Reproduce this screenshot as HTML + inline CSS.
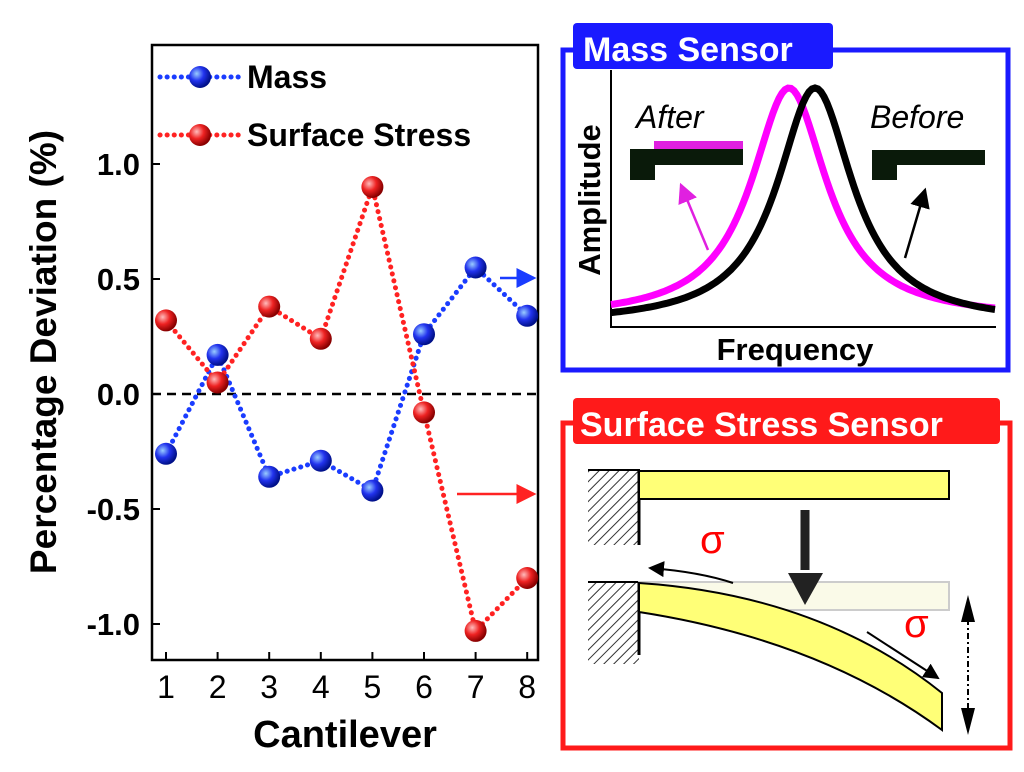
<!DOCTYPE html>
<html><head><meta charset="utf-8"><style>
body{margin:0;background:#fff;width:1024px;height:767px;overflow:hidden;font-family:"Liberation Sans",sans-serif}
svg text{font-family:"Liberation Sans",sans-serif;font-weight:bold}
</style></head><body>
<svg width="1024" height="767" viewBox="0 0 1024 767">
<defs>
<radialGradient id="gb" cx="35%" cy="35%" r="65%"><stop offset="0" stop-color="#9cf"/><stop offset="0.5" stop-color="#2233ee"/><stop offset="1" stop-color="#001088"/></radialGradient>
<radialGradient id="gr" cx="35%" cy="35%" r="65%"><stop offset="0" stop-color="#fbb"/><stop offset="0.5" stop-color="#ee2222"/><stop offset="1" stop-color="#880000"/></radialGradient>
<marker id="ab" markerWidth="8" markerHeight="8" refX="7" refY="4" orient="auto"><path d="M0,0L8,4L0,8z" fill="#1a3cff"/></marker>
<marker id="ar" markerWidth="8" markerHeight="8" refX="7" refY="4" orient="auto"><path d="M0,0L8,4L0,8z" fill="#f22"/></marker>
<marker id="ak" markerWidth="8" markerHeight="8" refX="7" refY="4" orient="auto"><path d="M0,0L8,4L0,8z" fill="#000"/></marker>
<marker id="am" markerWidth="8" markerHeight="8" refX="7" refY="4" orient="auto"><path d="M0,0L8,4L0,8z" fill="#e020e0"/></marker>
<pattern id="hatch" width="7" height="7" patternUnits="userSpaceOnUse" patternTransform="rotate(45)"><rect width="7" height="7" fill="#fff"/><line x1="0" y1="0" x2="0" y2="7" stroke="#333" stroke-width="2"/></pattern>
</defs>
<g id="chart"></g>

<!-- Mass sensor inset -->
<g>
<rect x="563" y="50" width="445" height="320" fill="none" stroke="#1a1aff" stroke-width="5"/>
<rect x="573" y="23" width="260" height="46" rx="4" fill="#1a1aff"/>
<text x="583" y="61" font-size="34" fill="#fff">Mass Sensor</text>
<polyline points="611,70 611,327 996,327" fill="none" stroke="#000" stroke-width="2"/>
<path id="magcurve" fill="none" stroke="#ff00ff" stroke-width="7"/>
<path id="blkcurve" fill="none" stroke="#000" stroke-width="7"/>
<text x="600" y="200" font-size="31" transform="rotate(-90 600 200)" text-anchor="middle">Amplitude</text>
<text x="795" y="360" font-size="31" text-anchor="middle">Frequency</text>
<text x="636" y="128" font-size="32" font-style="italic" style="font-weight:normal">After</text>
<text x="870" y="128" font-size="32" font-style="italic" style="font-weight:normal">Before</text>
<rect x="654" y="141" width="89" height="8" fill="#e020e0"/>
<path d="M630,149H743V165H655V180H630Z" fill="#0a1a0a"/>
<path d="M872,150H985V165H897V180H872Z" fill="#0a1a0a"/>
<line x1="708" y1="250" x2="681" y2="185" stroke="#e020e0" stroke-width="2.5" marker-end="url(#am)"/>
<line x1="905" y1="258" x2="925" y2="190" stroke="#000" stroke-width="2.5" marker-end="url(#ak)"/>
</g>

<!-- Surface stress inset -->
<g>
<rect x="563" y="423" width="447" height="325" fill="none" stroke="#ff1a1a" stroke-width="5"/>
<rect x="573" y="398" width="427" height="46" rx="4" fill="#ff1a1a"/>
<text x="580" y="436" font-size="34" fill="#fff">Surface Stress Sensor</text>
<rect x="588" y="470" width="51" height="75" fill="url(#hatch)"/>
<line x1="588" y1="470" x2="640" y2="470" stroke="#000" stroke-width="2"/>
<line x1="639" y1="470" x2="639" y2="545" stroke="#000" stroke-width="3"/>
<rect x="639" y="471" width="310" height="28" fill="#ffff77" stroke="#000" stroke-width="2"/>
<rect x="588" y="582" width="51" height="82" fill="url(#hatch)"/>
<line x1="588" y1="582" x2="640" y2="582" stroke="#000" stroke-width="2"/>
<line x1="639" y1="582" x2="639" y2="655" stroke="#000" stroke-width="3"/>
<rect x="639" y="582" width="310" height="28" fill="#fafae8" stroke="#ccc" stroke-width="2"/>
<path d="M639,583 Q820,595 942,693 L942,730 Q820,640 639,612Z" fill="#ffff77" stroke="#000" stroke-width="2"/>
<path d="M805,510V570" stroke="#222" stroke-width="9"/>
<path d="M788,573H823L805,605Z" fill="#222"/>
<path d="M733,583 Q700,572 650,568" fill="none" stroke="#000" stroke-width="2" marker-end="url(#ak)"/>
<line x1="867" y1="632" x2="938" y2="678" stroke="#000" stroke-width="2" marker-end="url(#ak)"/>
<text x="700" y="553" font-size="40" fill="#f00" style="font-weight:normal">σ</text>
<text x="904" y="637" font-size="40" fill="#f00" style="font-weight:normal">σ</text>
<line x1="968" y1="605" x2="968" y2="725" stroke="#000" stroke-width="2" stroke-dasharray="6,3,2,3"/>
<path d="M968,595L961,622H975Z M968,735L961,708H975Z" fill="#000"/>
</g>
</svg>
<script>
const categories=[1,2,3,4,5,6,7,8];
const massValues=[-0.26,0.17,-0.36,-0.29,-0.42,0.26,0.55,0.34];
const stressValues=[0.32,0.05,0.38,0.24,0.90,-0.08,-1.03,-0.80];
const yTicks=[-1.0,-0.5,0.0,0.5,1.0];
const yTickLabels=["-1.0","-0.5","0.0","0.5","1.0"];
const NS="http://www.w3.org/2000/svg";
const X=c=>166+(c-1)*51.6;
const Y=v=>394-v*230;
const g=document.getElementById('chart');
function mk(t,a,p){const e=document.createElementNS(NS,t);for(const k in a)e.setAttribute(k,a[k]);(p||g).appendChild(e);return e;}
const frame=mk('rect',{x:152,y:45,width:386,height:615,fill:'none',stroke:'#000','stroke-width':2.5});


const zl=mk('line',{x1:152,x2:538,y1:Y(0),y2:Y(0),stroke:'#000','stroke-width':2.5,'stroke-dasharray':'9,6'});


yTicks.forEach((v,i)=>{
 mk('line',{x1:152,x2:160,y1:Y(v),y2:Y(v),stroke:'#000','stroke-width':2});
 const t=mk('text',{x:140,y:Y(v)+11,'font-size':31,'text-anchor':'end'});t.textContent=yTickLabels[i];
 
 
});
categories.forEach(c=>{
 mk('line',{x1:X(c),x2:X(c),y1:660,y2:652,stroke:'#000','stroke-width':2});
 const t=mk('text',{x:X(c),y:698,'font-size':32,'text-anchor':'middle','style':'font-weight:normal'});t.textContent=c;
 
 
});
const xt=mk('text',{x:345,y:747,'font-size':38,'text-anchor':'middle'});xt.textContent='Cantilever';


const yt=mk('text',{x:56,y:352,'font-size':37,'text-anchor':'middle',transform:'rotate(-90 56 352)'});yt.textContent='Percentage Deviation (%)';


function series(vals,color,grad,name){
 const pl=mk('polyline',{points:vals.map((v,i)=>X(categories[i])+','+Y(v)).join(' '),fill:'none',stroke:color,'stroke-width':5,'stroke-dasharray':'0.1,7','stroke-linecap':'round'});
 
 
 vals.forEach((v,i)=>{const c=mk('circle',{cx:X(categories[i]),cy:Y(v),r:11,fill:grad});
 
 });
}
series(massValues,'#1a3cff','url(#gb)','mass');
series(stressValues,'#f22','url(#gr)','stress');
[['Mass','#1a3cff','url(#gb)',77],['Surface Stress','#f22','url(#gr)',135]].forEach(l=>{
 mk('line',{x1:160,x2:240,y1:l[3],y2:l[3],stroke:l[1],'stroke-width':5,'stroke-dasharray':'0.1,7','stroke-linecap':'round'});
 const c=mk('circle',{cx:200,cy:l[3],r:11,fill:l[2]});
 
 
 const t=mk('text',{x:247,y:l[3]+11,'font-size':32});t.textContent=l[0];
 
 
});
const a1=mk('line',{x1:500,x2:534,y1:278,y2:278,stroke:'#1a3cff','stroke-width':2.5,'marker-end':'url(#ab)'});


const a2=mk('line',{x1:457,x2:534,y1:494,y2:494,stroke:'#f22','stroke-width':2.5,'marker-end':'url(#ar)'});


function lor(x0,base){let d='';for(let x=611;x<=995;x+=3){const y=base-(base-88)/(1+Math.pow((x-x0)/46,2));d+=(x===611?'M':'L')+x+','+y.toFixed(1);}return d;}
document.getElementById('magcurve').setAttribute('d',lor(789,319));
document.getElementById('blkcurve').setAttribute('d',lor(815,324));
</script>
</body></html>
